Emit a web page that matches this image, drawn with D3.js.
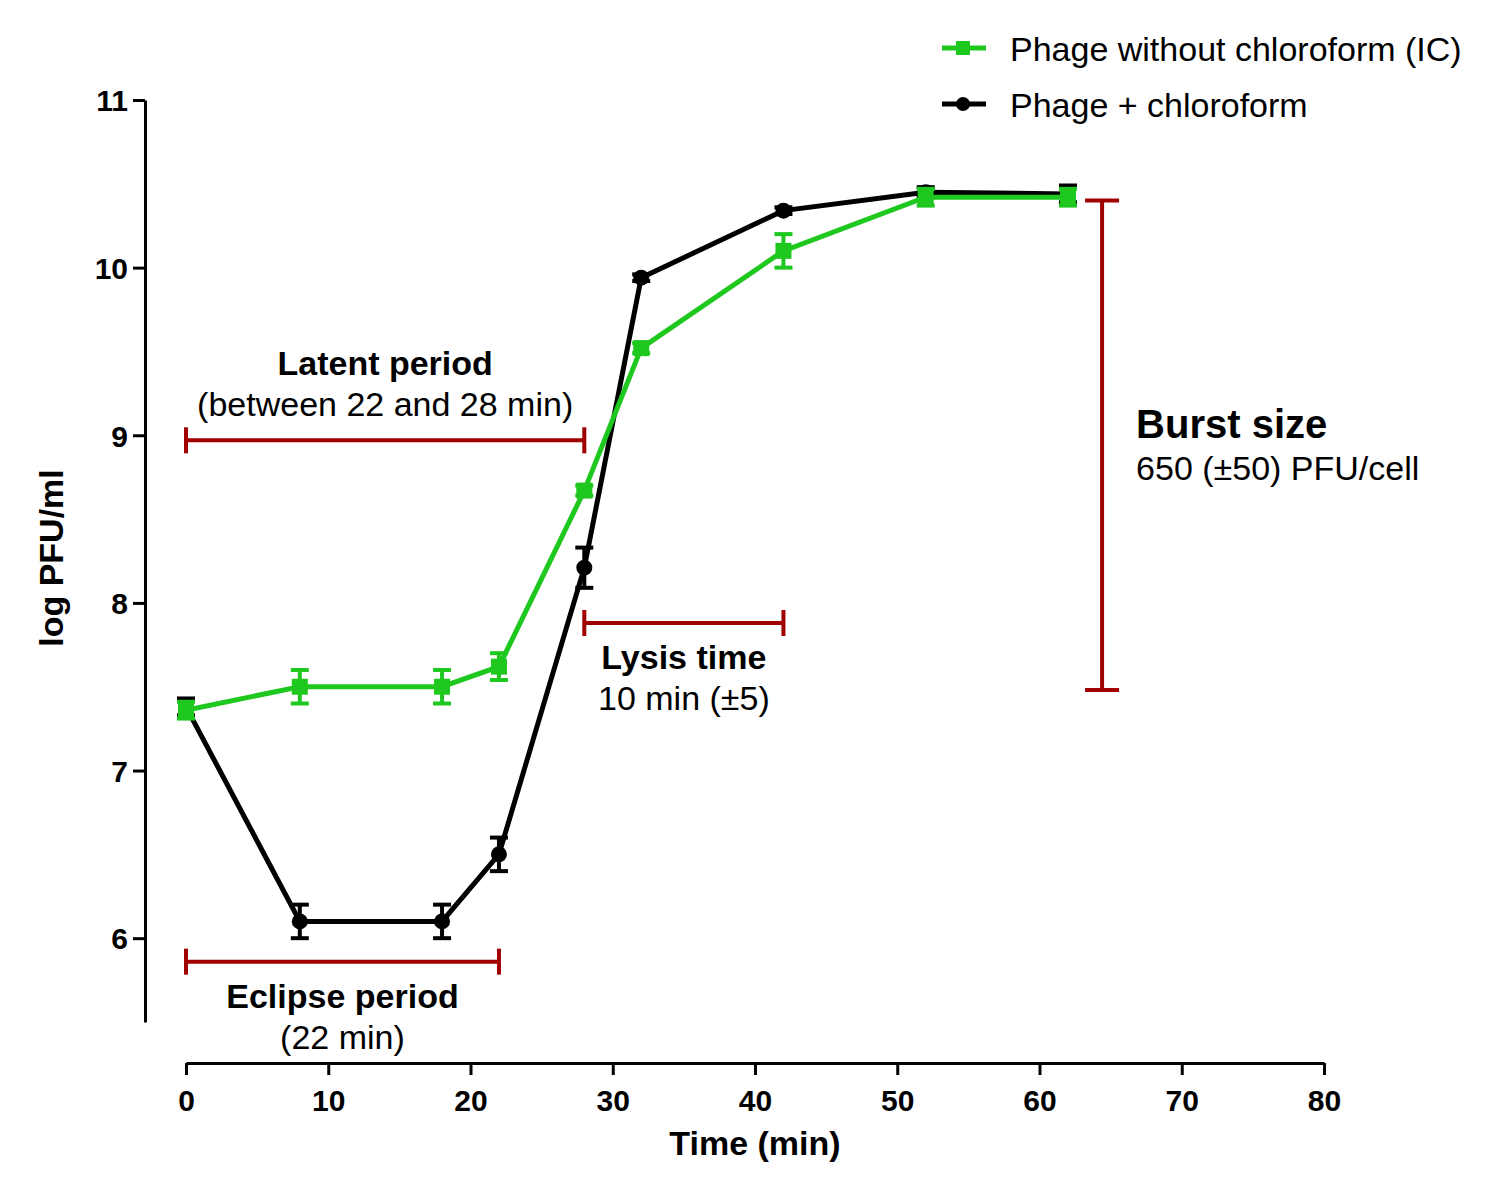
<!DOCTYPE html>
<html><head><meta charset="utf-8">
<script src="https://cdn.jsdelivr.net/npm/d3@7"></script>
<style>body{margin:0;background:#fff}svg{display:block}text{font-family:"Liberation Sans",Arial,sans-serif}</style>
</head><body>
<script>
const times = [0, 8, 18, 22, 28, 32, 42, 52, 62];
const greenValues = [7.36, 7.50, 7.50, 7.62, 8.67, 9.52, 10.10, 10.42, 10.42];
const greenErrors = [0.05, 0.10, 0.10, 0.08, 0.03, 0.03, 0.10, 0.05, 0.05];
const blackValues = [7.38, 6.10, 6.10, 6.50, 8.21, 9.94, 10.34, 10.45, 10.44];
const blackErrors = [0.05, 0.10, 0.10, 0.10, 0.12, 0.02, 0.02, 0.03, 0.05];
const xTicks = [0, 10, 20, 30, 40, 50, 60, 70, 80];
const yTicks = [6, 7, 8, 9, 10, 11];
const seriesNames = ["Phage without chloroform (IC)", "Phage + chloroform"];
const hBrackets = [
  {x0: 0, x1: 28, y: 8.97, title: "Latent period", sub: "(between 22 and 28 min)", pos: "above"},
  {x0: 0, x1: 22, y: 5.86, title: "Eclipse period", sub: "(22 min)", pos: "below"},
  {x0: 28, x1: 42, y: 7.88, title: "Lysis time", sub: "10 min (±5)", pos: "below"}
];
const burst = {x: 64.4, y0: 7.48, y1: 10.40, title: "Burst size", sub: "650 (±50) PFU/cell"};

const W = 1489, H = 1193;
const svg = d3.select("body").append("svg").attr("width", W).attr("height", H);
const x = d3.scaleLinear().domain([0, 80]).range([186, 1324]);
const y = d3.scaleLinear().domain([5.5, 11]).range([1022, 100]);
const GREEN = "#1ec81e", BLACK = "#000", RED = "#a00000";

// axes
const yAxis = svg.append("g").attr("transform", "translate(145,0)")
  .call(d3.axisLeft(y).tickValues(yTicks).tickSize(12).tickSizeOuter(0).tickFormat(d3.format("d")));
const xAxis = svg.append("g").attr("transform", "translate(0,1063)")
  .call(d3.axisBottom(x).tickValues(xTicks).tickSize(12).tickSizeOuter(0).tickFormat(d3.format("d")));
[yAxis, xAxis].forEach(g => {
  g.attr("font-size", null).attr("font-family", null);
  g.select(".domain").attr("stroke", "#000").attr("stroke-width", 3);
  g.selectAll(".tick line").attr("stroke", "#000").attr("stroke-width", 3);
  g.selectAll(".tick text").style("font-size", "30px").attr("font-weight", "bold").attr("fill", "#000");
});
yAxis.selectAll(".tick text").attr("x", -17).attr("dy", "0.36em");
xAxis.selectAll(".tick text").attr("y", 48).attr("dy", 0);

svg.append("text").attr("x", 755).attr("y", 1155).attr("text-anchor", "middle")
  .style("font-size", "34px").attr("font-weight", "bold").text("Time (min)");
svg.append("text").attr("transform", "translate(63,558) rotate(-90)").attr("text-anchor", "middle")
  .style("font-size", "34px").attr("font-weight", "bold").text("log PFU/ml");

// annotations
const ann = svg.append("g").attr("stroke", RED).attr("stroke-width", 4).attr("fill", "none");
hBrackets.forEach(b => {
  ann.append("line").attr("x1", x(b.x0)).attr("x2", x(b.x1)).attr("y1", y(b.y)).attr("y2", y(b.y));
  [b.x0, b.x1].forEach(v => ann.append("line").attr("x1", x(v)).attr("x2", x(v)).attr("y1", y(b.y) - 13).attr("y2", y(b.y) + 13));
  const cx = (x(b.x0) + x(b.x1)) / 2;
  const t1 = b.pos === "above" ? y(b.y) - 65 : y(b.y) + 46;
  svg.append("text").attr("x", cx).attr("y", t1).attr("text-anchor", "middle").style("font-size", "34px").attr("font-weight", "bold").text(b.title);
  svg.append("text").attr("x", cx).attr("y", t1 + 41).attr("text-anchor", "middle").style("font-size", "34px").text(b.sub);
});
ann.append("line").attr("x1", x(burst.x)).attr("x2", x(burst.x)).attr("y1", y(burst.y0)).attr("y2", y(burst.y1));
[burst.y0, burst.y1].forEach(v => ann.append("line").attr("x1", x(burst.x) - 17).attr("x2", x(burst.x) + 17).attr("y1", y(v)).attr("y2", y(v)));
svg.append("text").attr("x", x(burst.x) + 34).attr("y", 438).style("font-size", "40px").attr("font-weight", "bold").text(burst.title);
svg.append("text").attr("x", x(burst.x) + 34).attr("y", 480).style("font-size", "34px").text(burst.sub);

// series
const line = d3.line().x(d => x(d.t)).y(d => y(d.v));
function drawSeries(vals, errs, color, marker) {
  const data = times.map((t, i) => ({t, v: vals[i], e: errs[i]}));
  const g = svg.append("g");
  g.append("path").datum(data).attr("d", line).attr("fill", "none").attr("stroke", color).attr("stroke-width", 5);
  data.forEach(d => {
    const eg = g.append("g").attr("stroke", color).attr("stroke-width", 4);
    eg.append("line").attr("x1", x(d.t)).attr("x2", x(d.t)).attr("y1", y(d.v - d.e)).attr("y2", y(d.v + d.e));
    [d.v - d.e, d.v + d.e].forEach(v => eg.append("line").attr("x1", x(d.t) - 9).attr("x2", x(d.t) + 9).attr("y1", y(v)).attr("y2", y(v)));
    if (marker === "square") g.append("rect").attr("x", x(d.t) - 8).attr("y", y(d.v) - 8).attr("width", 16).attr("height", 16).attr("fill", color);
    else g.append("circle").attr("cx", x(d.t)).attr("cy", y(d.v)).attr("r", 8).attr("fill", color);
  });
}
drawSeries(blackValues, blackErrors, BLACK, "circle");
drawSeries(greenValues, greenErrors, GREEN, "square");

// legend
const legend = [{name: seriesNames[0], color: GREEN, marker: "square", y: 48}, {name: seriesNames[1], color: BLACK, marker: "circle", y: 104}];
legend.forEach(l => {
  svg.append("line").attr("x1", 942).attr("x2", 986).attr("y1", l.y).attr("y2", l.y).attr("stroke", l.color).attr("stroke-width", 5);
  if (l.marker === "square") svg.append("rect").attr("x", 956).attr("y", l.y - 7).attr("width", 14).attr("height", 14).attr("fill", l.color);
  else svg.append("circle").attr("cx", 963).attr("cy", l.y).attr("r", 7).attr("fill", l.color);
  svg.append("text").attr("x", 1010).attr("y", l.y + 13).style("font-size", "34px").text(l.name);
});
</script>
</body></html>
